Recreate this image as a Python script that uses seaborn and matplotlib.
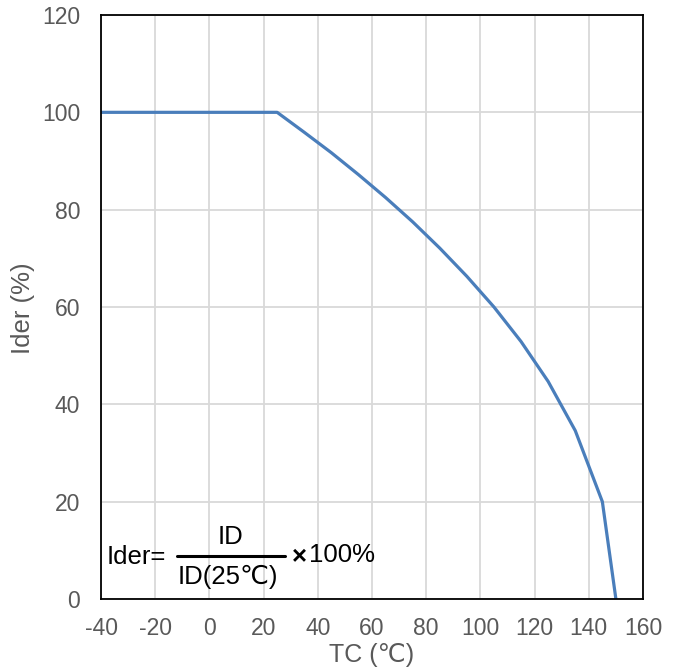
import matplotlib
matplotlib.use("Agg")
import matplotlib.pyplot as plt
import seaborn as sns
import pandas as pd

tc = [-40, 25, 35, 45, 55, 65, 75, 85, 95, 105, 115, 125, 135, 145, 150]
ider = [100, 100, 95.9, 91.7, 87.2, 82.5, 77.5, 72.1, 66.3, 60.0, 52.9, 44.7, 34.6, 20.0, 0]
xticks = [-40, -20, 0, 20, 40, 60, 80, 100, 120, 140, 160]
yticks = [0, 20, 40, 60, 80, 100, 120]

sns.set_theme(style="white")
plt.rcParams['font.family'] = ['Liberation Sans', 'DejaVu Sans']
plt.rcParams['axes.unicode_minus'] = False

df = pd.DataFrame({"TC": tc, "Ider": ider})
fig = plt.figure(figsize=(6.79, 6.71), dpi=100)
ax = fig.add_axes([101/679, 1 - 599/671, 542/679, 584/671])
sns.lineplot(data=df, x="TC", y="Ider", ax=ax, color="#4a7ebb", linewidth=2.3, sort=False)

ax.set_xlim(-40, 160)
ax.set_ylim(0, 120)
ax.set_xticks(xticks)
ax.set_yticks(yticks)
ax.grid(True, color="#d9d9d9", linewidth=1.3)
ax.set_axisbelow(True)
for s in ax.spines.values():
    s.set_visible(True)
    s.set_color("black")
    s.set_linewidth(1.3)
ax.tick_params(axis="both", labelsize=16.5, labelcolor="#595959", length=0)
ax.tick_params(axis="x", pad=13)
ax.tick_params(axis="y", pad=15)
ax.set_xlabel("TC (℃)", fontsize=18, color="#595959")
ax.set_ylabel("Ider (%)", fontsize=18.5, color="#595959")
ax.xaxis.set_label_coords((372 - 101) / 542, -(655 - 599) / 584)
ax.yaxis.set_label_coords(-(101 - 23) / 542, (599 - 308) / 584)
ax.xaxis.label.set_va("center")
ax.yaxis.label.set_va("center")

# formula annotation
def px(x, y):
    return (x / 679, 1 - y / 671)

fs = 18.5
fig.text(*px(107, 557), "Ider=", fontsize=fs, color="black", va="center", ha="left")
fig.text(*px(231, 537), "ID", fontsize=fs, color="black", va="center", ha="center")
fig.text(*px(228, 577), "ID(25℃)", fontsize=fs, color="black", va="center", ha="center")
fig.add_artist(plt.Line2D([177/679, 285/679], [1 - 556/671, 1 - 556/671], color="black", linewidth=2.2))
fig.text(*px(292, 557), "×", fontsize=fs, color="black", va="center", ha="left", fontweight="bold")
fig.text(*px(309, 555), "100%", fontsize=fs, color="black", va="center", ha="left")

fig.savefig("out.png", dpi=100, facecolor="white")
